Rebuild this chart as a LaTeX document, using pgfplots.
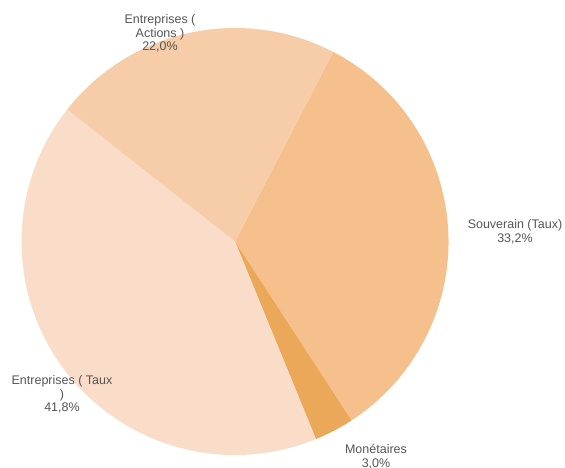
\documentclass[border=0pt]{standalone}
\usepackage{pgfplots}
\pgfplotsset{compat=1.18}
\usepackage{pgfplotstable}
\usepackage{fontspec}
\setmainfont{Liberation Sans}

\definecolor{souverain}{HTML}{F6C08C}
\definecolor{monetaires}{HTML}{EBA858}
\definecolor{taux}{HTML}{F9DDC8}
\definecolor{actions}{HTML}{F6CDA8}
\definecolor{labelgray}{HTML}{555555}

% shares in percent, clockwise from the first slice
\pgfplotstableread{
share colour
33.2 souverain
3.0 monetaires
41.8 taux
22.0 actions
}\pietable

\begin{document}
\begin{tikzpicture}
\begin{axis}[
    name=pie,
    width=565pt, height=468pt, scale only axis,
    xmin=0, xmax=565, ymin=0, ymax=468,
    y dir=reverse,
    hide axis, clip=false,
]
\pgfplotsextra{
    \gdef\start{62.6}
    \pgfplotstableforeachcolumnelement{share}\of\pietable\as\v{
        \pgfplotstablegetelem{\pgfplotstablerow}{colour}\of\pietable
        \let\col\pgfplotsretval
        \pgfmathsetmacro\stop{\start-3.6*\v}
        \fill[\col] (axis cs:235,241.5) -- ++(\start:213.5pt)
            arc[start angle=\start, end angle=\stop, radius=213.5pt] -- cycle;
        \global\let\start\stop
    }
}
\tikzset{lbl/.style={align=center, text=labelgray,
    font=\fontsize{12.5}{13.5}\selectfont, inner sep=0pt}}
\node[lbl] at (axis cs:160,33.5) {Entreprises (\\Actions )\\22,0\%};
\node[lbl] at (axis cs:515,232) {Souverain (Taux)\\33,2\%};
\node[lbl] at (axis cs:376,456.5) {Monétaires\\3,0\%};
\node[lbl] at (axis cs:62,394.5) {Entreprises ( Taux\\)\\41,8\%};
\end{axis}
\pgfresetboundingbox
\path[use as bounding box] (pie.south west) rectangle (pie.north east);
\end{tikzpicture}
\end{document}
